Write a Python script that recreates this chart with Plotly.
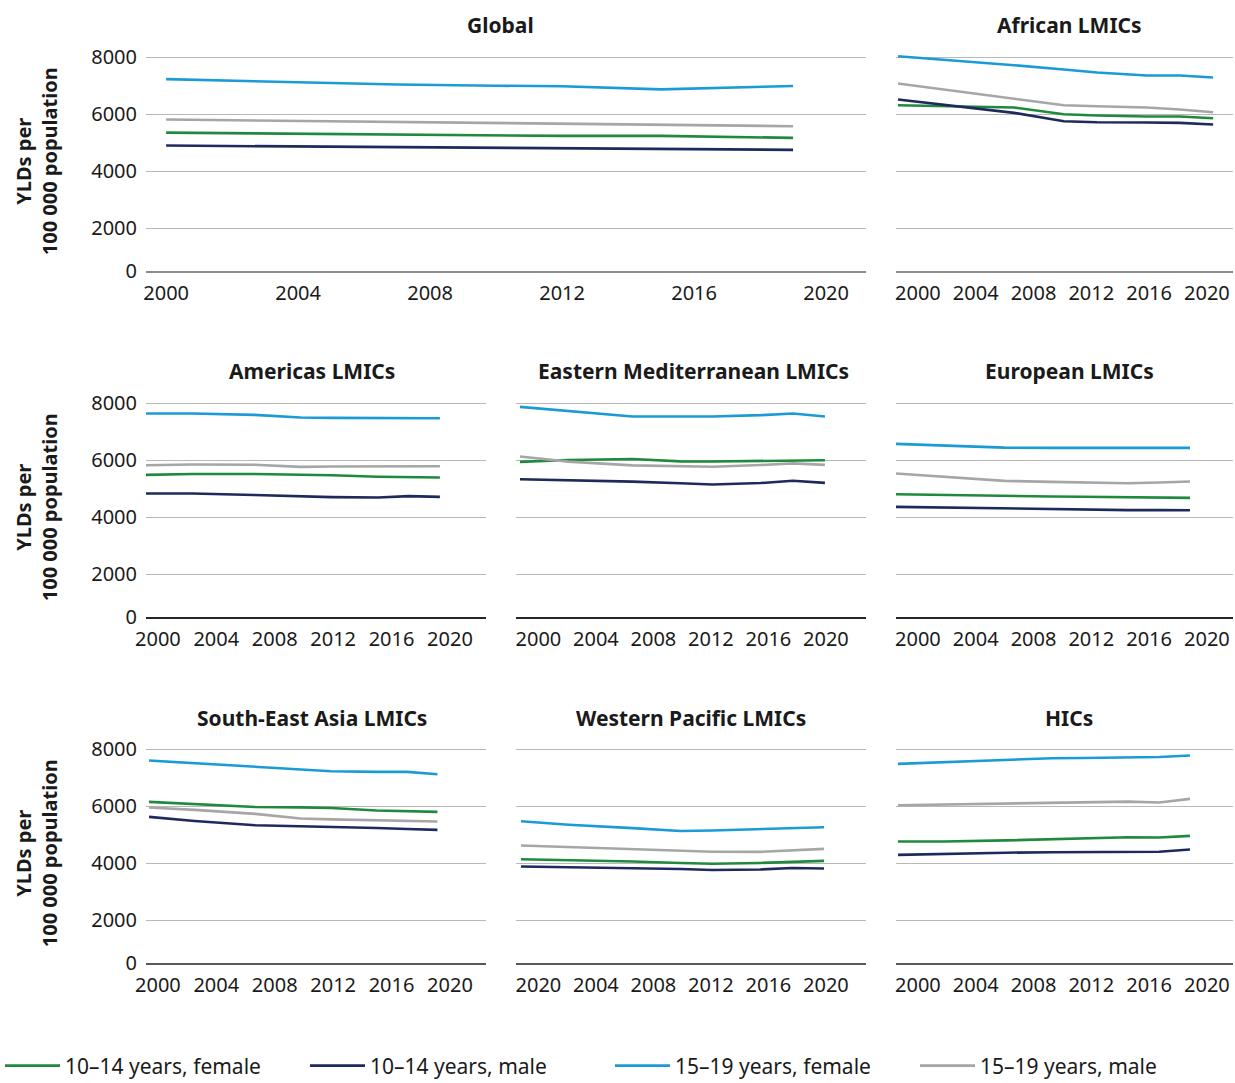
import plotly.graph_objects as go

# ---------------- data ----------------
YEARS = [2000, 2003, 2007, 2010, 2012, 2015, 2017, 2019]

SERIES_NAMES = ["10–14 years, female", "10–14 years, male", "15–19 years, female", "15–19 years, male"]

GLOBAL_F1014 = [5355, 5320, 5280, 5255, 5240, 5240, 5200, 5170]
GLOBAL_M1014 = [4900, 4880, 4850, 4830, 4815, 4790, 4770, 4750]
GLOBAL_F1519 = [7230, 7140, 7040, 7000, 6980, 6870, 6930, 6990]
GLOBAL_M1519 = [5815, 5780, 5735, 5700, 5680, 5640, 5610, 5580]

AFR_F1014 = [6316, 6281, 6234, 6000, 5953, 5918, 5918, 5860]
AFR_M1014 = [6515, 6316, 6047, 5754, 5719, 5707, 5696, 5638]
AFR_F1519 = [8035, 7906, 7719, 7568, 7463, 7357, 7357, 7288]
AFR_M1519 = [7076, 6842, 6550, 6316, 6281, 6234, 6164, 6070]

AMR_F1014 = [5485, 5515, 5515, 5495, 5470, 5420, 5410, 5392]
AMR_M1014 = [4830, 4830, 4780, 4725, 4705, 4690, 4740, 4713]
AMR_F1519 = [7637, 7637, 7591, 7497, 7485, 7474, 7474, 7474]
AMR_M1519 = [5825, 5848, 5842, 5766, 5778, 5789, 5789, 5789]

EMR_F1014 = [5942, 6010, 6040, 5960, 5955, 5965, 5980, 6000]
EMR_M1014 = [5333, 5300, 5250, 5190, 5150, 5200, 5280, 5205]
EMR_F1519 = [7870, 7735, 7533, 7533, 7533, 7580, 7640, 7533]
EMR_M1519 = [6130, 5950, 5820, 5790, 5770, 5830, 5890, 5836]

EUR_F1014 = [4807, 4780, 4730, 4725, 4720, 4705, 4690, 4678]
EUR_M1014 = [4363, 4340, 4300, 4270, 4255, 4250, 4248, 4246]
EUR_F1519 = [6573, 6510, 6440, 6433, 6433, 6433, 6433, 6433]
EUR_M1519 = [5532, 5430, 5275, 5240, 5215, 5190, 5220, 5251]

SEAR_F1014 = [6152, 6065, 5975, 5960, 5935, 5850, 5815, 5801]
SEAR_M1014 = [5626, 5480, 5330, 5300, 5275, 5235, 5200, 5170]
SEAR_F1519 = [7602, 7509, 7383, 7288, 7228, 7205, 7205, 7123]
SEAR_M1519 = [5954, 5870, 5730, 5570, 5540, 5510, 5485, 5462]

WPR_F1014 = [4140, 4110, 4060, 4010, 3980, 4010, 4050, 4082]
WPR_M1014 = [3883, 3860, 3830, 3800, 3760, 3780, 3830, 3813]
WPR_F1519 = [5474, 5350, 5230, 5130, 5150, 5195, 5230, 5263]
WPR_M1519 = [4620, 4560, 4480, 4420, 4400, 4398, 4440, 4503]

HIC_F1014 = [4760, 4760, 4800, 4840, 4880, 4910, 4905, 4958]
HIC_M1014 = [4292, 4330, 4370, 4385, 4390, 4390, 4400, 4480]
HIC_F1519 = [7485, 7545, 7640, 7684, 7690, 7700, 7725, 7778]
HIC_M1519 = [6035, 6065, 6100, 6130, 6150, 6160, 6130, 6257]

PANEL_TITLES = ["Global", "African LMICs", "Americas LMICs", "Eastern Mediterranean LMICs",
                "European LMICs", "South-East Asia LMICs", "Western Pacific LMICs", "HICs"]

X_TICKS_GLOBAL = ["2000", "2004", "2008", "2012", "2016", "2020"]
X_TICKS_STD = ["2000", "2004", "2008", "2012", "2016", "2020"]
X_TICKS_WPR = ["2020", "2004", "2008", "2012", "2016", "2020"]

Y_TICK_TEXT = ["0", "2000", "4000", "6000", "8000"]
Y_TICK_VALUES = [2000, 4000, 6000, 8000]

# ---------------- styling / layout constants ----------------
W, H = 1235, 1083
COLORS = ["#1f8a3d", "#1d2a5b", "#1a9bd7", "#a6a6a6"]
FONT = "Noto Sans"
TXT = "#1a1a1a"
Y_FLOOR = 500       # bottom of the value axis (labelled "0" in the original)
Y_TOP = 8200

COLS = {"c1": (146, 486), "c2": (516, 866), "c3": (896, 1233), "g": (146, 866)}
ROWS = [(51.5, 271), (397.5, 617), (743.5, 963)]   # top, bottom in px
TITLE_Y = [25, 371, 718]
TITLE_X = [500, 1069, 312, 693, 1069, 312, 691, 1069]
BASE_COLOR = ["#8c8c8c", "#262626", "#595959"]

# (title, data, column, row, x-range, tick labels, tick first-fraction, tick step-fraction, show y)
panels = [
    (0, [GLOBAL_F1014, GLOBAL_M1014, GLOBAL_F1519, GLOBAL_M1519], "g", 0, (1999.39, 2021.21), X_TICKS_GLOBAL, None, None, True),
    (1, [AFR_F1014, AFR_M1014, AFR_F1519, AFR_M1519], "c3", 0, (1999.88, 2020.2), X_TICKS_STD, 0.065, 0.1715, False),
    (2, [AMR_F1014, AMR_M1014, AMR_F1519, AMR_M1519], "c1", 1, (2000.0, 2021.98), X_TICKS_STD, 0.035, 0.1718, True),
    (3, [EMR_F1014, EMR_M1014, EMR_F1519, EMR_M1519], "c2", 1, (1999.75, 2021.56), X_TICKS_STD, 0.064, 0.1643, False),
    (4, [EUR_F1014, EUR_M1014, EUR_F1519, EUR_M1519], "c3", 1, (2000.0, 2021.78), X_TICKS_STD, 0.065, 0.1715, False),
    (5, [SEAR_F1014, SEAR_M1014, SEAR_F1519, SEAR_M1519], "c1", 2, (1999.8, 2022.2), X_TICKS_STD, 0.035, 0.1718, True),
    (6, [WPR_F1014, WPR_M1014, WPR_F1519, WPR_M1519], "c2", 2, (1999.69, 2021.63), X_TICKS_WPR, 0.064, 0.1643, False),
    (7, [HIC_F1014, HIC_M1014, HIC_F1519, HIC_M1519], "c3", 2, (1999.87, 2021.8), X_TICKS_STD, 0.065, 0.1715, False),
]

fig = go.Figure()
annotations = []
layout_axes = {}

for i, (ti, series, col, row, xr, xticks, f0, fs, showy) in enumerate(panels):
    n = i + 1
    xa = "x" if n == 1 else f"x{n}"
    ya = "y" if n == 1 else f"y{n}"
    xkey = "xaxis" if n == 1 else f"xaxis{n}"
    ykey = "yaxis" if n == 1 else f"yaxis{n}"
    x0, x1 = COLS[col]
    top, bot = ROWS[row]

    for k, vals in enumerate(series):
        fig.add_trace(go.Scatter(
            x=YEARS, y=vals, mode="lines", name=SERIES_NAMES[k],
            line=dict(color=COLORS[k], width=2.6),
            xaxis=xa, yaxis=ya, showlegend=(i == 0), hoverinfo="skip",
        ))

    if f0 is None:
        tickvals = [int(t) for t in xticks]
    else:
        tickvals = [xr[0] + (f0 + j * fs) * (xr[1] - xr[0]) for j in range(len(xticks))]

    layout_axes[xkey] = dict(
        domain=[x0 / W, x1 / W], anchor=ya, range=list(xr), automargin=False,
        tickmode="array", tickvals=tickvals, ticktext=xticks,
        showgrid=False, zeroline=False, showline=True,
        linecolor=BASE_COLOR[row], linewidth=2, ticks="",
        tickfont=dict(family=FONT, size=20, color=TXT), ticklabelstandoff=3,
    )
    yax = dict(
        domain=[1 - bot / H, 1 - top / H], anchor=xa, range=[Y_FLOOR, Y_TOP], automargin=False,
        tickmode="array", tickvals=[Y_FLOOR] + Y_TICK_VALUES, ticktext=Y_TICK_TEXT,
        showgrid=True, gridcolor="#b8b8b8", gridwidth=1.3, zeroline=False,
        showline=False, ticks="", showticklabels=showy,
        tickfont=dict(family=FONT, size=20, color=TXT), ticklabelstandoff=8,
    )
    if showy:
        yax["title"] = dict(text="<b>YLDs per<br>100 000 population</b>",
                            font=dict(family=FONT, size=20, color=TXT), standoff=28)
    layout_axes[ykey] = yax

    annotations.append(dict(
        text=f"<b>{PANEL_TITLES[ti]}</b>", x=TITLE_X[i] / W, y=1 - TITLE_Y[row] / H,
        xref="paper", yref="paper", xanchor="center", yanchor="middle", showarrow=False,
        font=dict(family=FONT, size=21, color=TXT),
    ))

fig.update_layout(
    width=W, height=H, margin=dict(l=0, r=0, t=0, b=0, autoexpand=False),
    paper_bgcolor="white", plot_bgcolor="white",
    font=dict(family=FONT, color=TXT),
    annotations=annotations,
    legend=dict(orientation="h", x=0, xanchor="left", y=1 - 1066 / H, yanchor="middle",
                font=dict(family=FONT, size=21, color=TXT), entrywidth=235, entrywidthmode="pixels",
                itemwidth=55, bgcolor="rgba(0,0,0,0)"),
    **layout_axes,
)

fig.write_html("out.html", config={"displayModeBar": False},
               post_script="document.body.style.margin='0';")
